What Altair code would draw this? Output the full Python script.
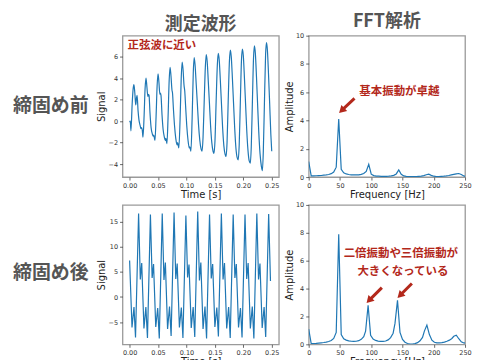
import altair as alt
import pandas as pd

# ---------------- data ----------------
col_titles = ["測定波形", "FFT解析"]
row_labels = ["締固め前", "締固め後"]

time_ticks = [0.0, 0.05, 0.10, 0.15, 0.20, 0.25]
freq_ticks = [0, 50, 100, 150, 200, 250]
amp_ticks = [0, 2, 4, 6, 8, 10]
sig_ticks_before = [-4, -2, 0, 2, 4, 6]
sig_ticks_after = [-5, 0, 5, 10, 15]

# waveform before compaction (time [s], signal)
t_before = [0.0000, 0.0012, 0.0023, 0.0045, 0.0062, 0.0076, 0.0092, 0.0108, 0.0122, 0.0132, 0.0148, 0.0165, 0.0185, 0.0200, 0.0210, 0.0222, 0.0235, 0.0255, 0.0272, 0.0288,
            0.0304, 0.0320, 0.0332, 0.0342, 0.0358, 0.0378, 0.0400, 0.0415, 0.0425, 0.0446, 0.0466, 0.0484, 0.0500,
            0.0516, 0.0532, 0.0542, 0.0552, 0.0570, 0.0590, 0.0612, 0.0628, 0.0638, 0.0656, 0.0676, 0.0696, 0.0712,
            0.0728, 0.0745, 0.0755, 0.0770, 0.0790, 0.0812, 0.0835, 0.0845, 0.0866, 0.0888, 0.0908, 0.0924,
            0.0940, 0.0958, 0.0970, 0.0985, 0.1005, 0.1028, 0.1050, 0.1060, 0.1078, 0.1100, 0.1120, 0.1136,
            0.1152, 0.1172, 0.1192, 0.1212, 0.1235, 0.1258, 0.1275, 0.1292, 0.1312, 0.1332, 0.1348,
            0.1364, 0.1384, 0.1404, 0.1424, 0.1446, 0.1468, 0.1484, 0.1502, 0.1522, 0.1544, 0.1560,
            0.1576, 0.1596, 0.1616, 0.1636, 0.1658, 0.1680, 0.1696, 0.1714, 0.1734, 0.1756, 0.1772,
            0.1788, 0.1808, 0.1828, 0.1848, 0.1870, 0.1892, 0.1910, 0.1928, 0.1948, 0.1968, 0.1984,
            0.2000, 0.2020, 0.2040, 0.2060, 0.2082, 0.2104, 0.2124, 0.2140, 0.2160, 0.2180, 0.2196,
            0.2212, 0.2232, 0.2252, 0.2272, 0.2294, 0.2318, 0.2336, 0.2352, 0.2372, 0.2392, 0.2408,
            0.2424, 0.2444, 0.2464, 0.2484, 0.2500]
s_before = [-0.1, 0.0, -0.9, 1.6, 3.0, 3.4, 2.6, 1.5, 2.2, 2.4, 1.0, 0.1, -0.4, -0.7, -0.6, -0.8, -1.5, 0.5, 3.0, 4.0,
            3.2, 2.3, 2.5, 2.4, 0.8, -0.6, -1.2, -1.4, -1.3, -1.8, 0.5, 3.3, 4.4,
            3.6, 2.5, 2.6, 2.4, 0.6, -0.8, -1.5, -1.8, -1.6, -2.1, 0.3, 3.8, 5.0,
            4.2, 2.9, 2.6, 1.2, -0.4, -1.6, -2.2, -2.0, -2.5, 0.2, 4.0, 5.5,
            4.8, 3.3, 2.8, 1.4, -0.4, -1.8, -2.5, -2.4, -2.8, 0.3, 4.5, 5.9,
            5.2, 3.4, 1.6, -0.3, -1.8, -2.6, -2.8, -1.5, 1.8, 5.0, 6.2,
            5.6, 3.7, 1.7, -0.4, -2.0, -2.8, -3.0, -1.8, 1.8, 5.3, 6.3,
            5.7, 3.8, 1.6, -0.6, -2.3, -3.1, -3.3, -2.0, 1.8, 5.6, 6.6,
            6.0, 4.0, 1.7, -0.6, -2.5, -3.4, -3.6, -2.2, 1.8, 5.7, 6.7,
            6.1, 4.0, 1.6, -0.8, -2.7, -3.7, -3.9, -2.4, 1.8, 5.9, 7.0,
            6.3, 4.1, 1.5, -1.0, -3.0, -4.2, -4.6, -2.8, 1.8, 6.2, 7.3,
            6.6, 4.3, 1.6, -1.2, -2.8]

# waveform after compaction
t_after = [0.0000, 0.0042, 0.0077, 0.0104, 0.0158,
           0.0188, 0.0213, 0.0252, 0.0286, 0.0314, 0.0366,
           0.0396, 0.0421, 0.0460, 0.0494, 0.0522, 0.0574,
           0.0604, 0.0629, 0.0668, 0.0702, 0.0730, 0.0782,
           0.0812, 0.0837, 0.0876, 0.0910, 0.0938, 0.0990,
           0.1020, 0.1045, 0.1084, 0.1118, 0.1146, 0.1198,
           0.1228, 0.1253, 0.1292, 0.1326, 0.1354, 0.1406,
           0.1436, 0.1461, 0.1500, 0.1534, 0.1562, 0.1614,
           0.1644, 0.1669, 0.1708, 0.1742, 0.1770, 0.1822,
           0.1852, 0.1877, 0.1916, 0.1950, 0.1978, 0.2030,
           0.2060, 0.2085, 0.2124, 0.2158, 0.2186, 0.2238,
           0.2268, 0.2293, 0.2332, 0.2366, 0.2394, 0.2446,
           0.2478]
s_after = [7.3, -6.1, -2.0, -8.1, 16.7,
           3.5, 6.8, -6.3, -2.0, -8.2, 16.5,
           3.8, 6.6, -6.0, -2.2, -8.3, 16.7,
           3.4, 6.9, -6.4, -1.9, -7.8, 16.9,
           3.6, 6.7, -6.1, -2.1, -8.2, 16.3,
           3.9, 6.5, -6.2, -2.0, -8.0, 17.1,
           3.3, 6.9, -6.4, -1.9, -8.3, 16.5,
           3.7, 6.6, -6.0, -2.1, -7.9, 16.7,
           3.5, 6.8, -6.3, -2.0, -8.2, 16.5,
           3.8, 6.6, -6.1, -2.2, -8.1, 16.5,
           3.6, 6.8, -6.3, -1.9, -8.3, 16.7,
           3.5, 6.7, -6.2, -2.0, -8.0, 16.6,
           3.2]

# FFT before compaction
f_before = [0, 4, 8, 12, 16, 20, 24, 28, 32, 36, 40, 44, 48, 52, 56, 60, 64, 68, 72, 76, 80, 84, 88, 92, 96,
            100, 104, 108, 112, 116, 120, 124, 128, 132, 136, 140, 144, 148, 152, 156, 160, 164, 168, 172,
            176, 180, 184, 188, 192, 196, 200, 204, 208, 212, 216, 220, 224, 228, 232, 236, 240, 244, 248, 252]
a_before = [1.1, 0.08, 0.08, 0.09, 0.10, 0.11, 0.13, 0.15, 0.18, 0.24, 0.35, 0.70, 4.10, 0.55, 0.30, 0.22, 0.18, 0.16, 0.15, 0.15, 0.16, 0.19, 0.25, 0.40, 0.90,
            0.20, 0.10, 0.07, 0.06, 0.05, 0.05, 0.05, 0.06, 0.08, 0.12, 0.22, 0.50, 0.20, 0.08, 0.05, 0.04, 0.04, 0.04, 0.04,
            0.05, 0.06, 0.10, 0.16, 0.20, 0.12, 0.06, 0.04, 0.04, 0.05, 0.06, 0.08, 0.11, 0.15, 0.19, 0.23, 0.25, 0.18, 0.08, 0.03]

# FFT after compaction
f_after = [0, 4, 8, 12, 16, 20, 24, 28, 32, 36, 40, 44, 48, 52, 56, 60, 64, 68, 72, 76, 80, 84, 88, 91, 95,
           99, 103, 107, 111, 115, 119, 123, 127, 131, 135, 138, 142, 146, 150, 154, 158, 162, 166, 170,
           174, 178, 182, 185, 189, 193, 197, 201, 205, 209, 213, 217, 221, 225, 229, 232, 236, 240, 244, 248, 252]
a_after = [1.1, 0.05, 0.06, 0.07, 0.09, 0.11, 0.13, 0.16, 0.20, 0.28, 0.42, 0.85, 7.90, 0.70, 0.40, 0.30, 0.25, 0.22, 0.21, 0.22, 0.26, 0.36, 0.55, 0.95, 2.80,
           0.65, 0.38, 0.28, 0.23, 0.21, 0.21, 0.24, 0.32, 0.48, 0.80, 1.50, 3.15, 0.85, 0.35, 0.15, 0.06, 0.02, 0.02, 0.05,
           0.12, 0.25, 0.50, 0.95, 1.38, 0.70, 0.30, 0.15, 0.10, 0.10, 0.12, 0.16, 0.22, 0.30, 0.42, 0.58, 0.65, 0.40, 0.18, 0.10, 0.08]

# annotations (data coordinates)
note_wave = ["正弦波に近い"]
note_fft_top = ["基本振動が卓越"]
note_fft_bottom = ["二倍振動や三倍振動が", "大きくなっている"]

# ---------------- styling ----------------
LINE = "#1f77b4"
RED = "#b3281b"
GRAY = "#555555"
JP = "Noto Sans CJK JP"
W, H1, H2 = 157, 142, 140

time_scale = alt.Scale(domain=[-0.0125, 0.2625], nice=False, zero=False)
time_axis = alt.Axis(values=time_ticks, format=".2f")
freq_scale = alt.Scale(domain=[0, 250], nice=False, zero=False)
freq_axis = alt.Axis(values=freq_ticks, format="d")
amp_scale = alt.Scale(domain=[0, 10], nice=False, zero=False)
amp_axis = alt.Axis(values=amp_ticks, format="d")


def fx(field):
    return alt.X(field + ":Q", title="Frequency [Hz]", scale=freq_scale, axis=freq_axis)


def fy(field):
    return alt.Y(field + ":Q", title="Amplitude", scale=amp_scale, axis=amp_axis)


x_time = alt.X("t:Q", title="Time [s]", scale=time_scale, axis=time_axis)


def y_sig(dom, ticks):
    return alt.Y("s:Q", title="Signal", scale=alt.Scale(domain=dom, nice=False, zero=False),
                 axis=alt.Axis(values=ticks, format="d"))


def col_title(text):
    return alt.TitleParams(text=text, frame="group", offset=2, fontSize=18, font=JP,
                           fontWeight="bold", color=GRAY, anchor="middle")


def row_label(text, ypos, h):
    return alt.Chart(pd.DataFrame({"label": [text]})).mark_text(
        font=JP, fontSize=19, fontWeight="bold", color=GRAY
    ).encode(text="label:N", x=alt.value(42), y=alt.value(ypos)).properties(
        width=84, height=h, view=alt.ViewBackground(stroke="transparent"))


def arrows(df):
    shaft = alt.Chart(df).mark_rule(color=RED, strokeWidth=3).encode(
        x=fx("f"), y=fy("a"), x2="f2:Q", y2="a2:Q")
    head = alt.Chart(df).mark_point(shape="triangle", filled=True, color=RED, size=70, opacity=1).encode(
        x=fx("f2"), y=fy("a2"), angle=alt.Angle("ang:Q", scale=None))
    return shaft, head


# top-left waveform
df_wb = pd.DataFrame({"t": t_before, "s": s_before})
yb = y_sig([-5.2, 7.95], sig_ticks_before)
wave_b = alt.Chart(df_wb).mark_line(color=LINE, strokeWidth=1.2, interpolate="monotone", clip=True).encode(x=x_time, y=yb)
wave_b_note = alt.Chart(pd.DataFrame({"t": [-0.0035], "s": [7.0], "txt": note_wave})).mark_text(
    font=JP, fontSize=11.5, fontWeight="bold", color=RED, align="left").encode(x=x_time, y=yb, text="txt:N")
panel_wb = alt.layer(wave_b, wave_b_note).properties(width=W, height=H1, title=col_title(col_titles[0]))

# top-right FFT
df_fb = pd.DataFrame({"f": f_before, "a": a_before})
fft_b = alt.Chart(df_fb).mark_line(color=LINE, strokeWidth=1.2, clip=True).encode(x=fx("f"), y=fy("a"))
fb_note = alt.Chart(pd.DataFrame({"f": [145], "a": [6.0], "txt": note_fft_top})).mark_text(
    font=JP, fontSize=11.5, fontWeight="bold", color=RED).encode(x=fx("f"), y=fy("a"), text="txt:N")
fb_shaft, fb_head = arrows(pd.DataFrame({"f": [73.2], "a": [5.56], "f2": [54.1], "a2": [4.77], "ang": [226]}))
panel_fb = alt.layer(fft_b, fb_note, fb_shaft, fb_head).properties(width=W, height=H1, title=col_title(col_titles[1]))

# bottom-left waveform
df_wa = pd.DataFrame({"t": t_after, "s": s_after})
ya = y_sig([-9.45, 18.4], sig_ticks_after)
panel_wa = alt.Chart(df_wa).mark_line(color=LINE, strokeWidth=1.2, clip=True).encode(x=x_time, y=ya).properties(width=W, height=H2)

# bottom-right FFT
df_fa = pd.DataFrame({"f": f_after, "a": a_after})
fft_a = alt.Chart(df_fa).mark_line(color=LINE, strokeWidth=1.2, clip=True).encode(x=fx("f"), y=fy("a"))
fa_note = alt.Chart(pd.DataFrame({"f": [147.4, 150.6], "a": [6.5, 5.21], "txt": note_fft_bottom})).mark_text(
    font=JP, fontSize=11.5, fontWeight="bold", color=RED).encode(x=fx("f"), y=fy("a"), text="txt:N")
fa_shaft, fa_head = arrows(pd.DataFrame({"f": [117.0, 165.0], "a": [4.07, 4.36], "f2": [97.8, 147.4],
                                         "a2": [3.21, 3.57], "ang": [223, 225]}))
panel_fa = alt.layer(fft_a, fa_note, fa_shaft, fa_head).properties(width=W, height=H2)

lab_b = row_label(row_labels[0], 71, H1)
lab_a = row_label(row_labels[1], 68, H2)

chart = alt.concat(lab_b, panel_wb, panel_fb, lab_a, panel_wa, panel_fa,
                   columns=3, spacing={"row": 28, "column": 30}, bounds="flush", align="each"
                   ).properties(padding={"top": 3, "left": 0, "right": 0, "bottom": 0}).configure_view(
    stroke="#9a9a9a", strokeWidth=1.3
).configure_axis(
    grid=False, domain=False, labelFont="DejaVu Sans", labelFontSize=6.5, labelColor="#333333",
    tickSize=3, tickColor="#444444", tickWidth=0.8, labelPadding=2, labelFlush=False,
    labelOverlap=False, labelBound=False,
    titleFont="DejaVu Sans", titleFontSize=10, titleFontWeight="normal", titleColor="#222222",
    titlePadding=1
)

chart.save("out.html", embed_options={"renderer": "svg", "actions": False})
